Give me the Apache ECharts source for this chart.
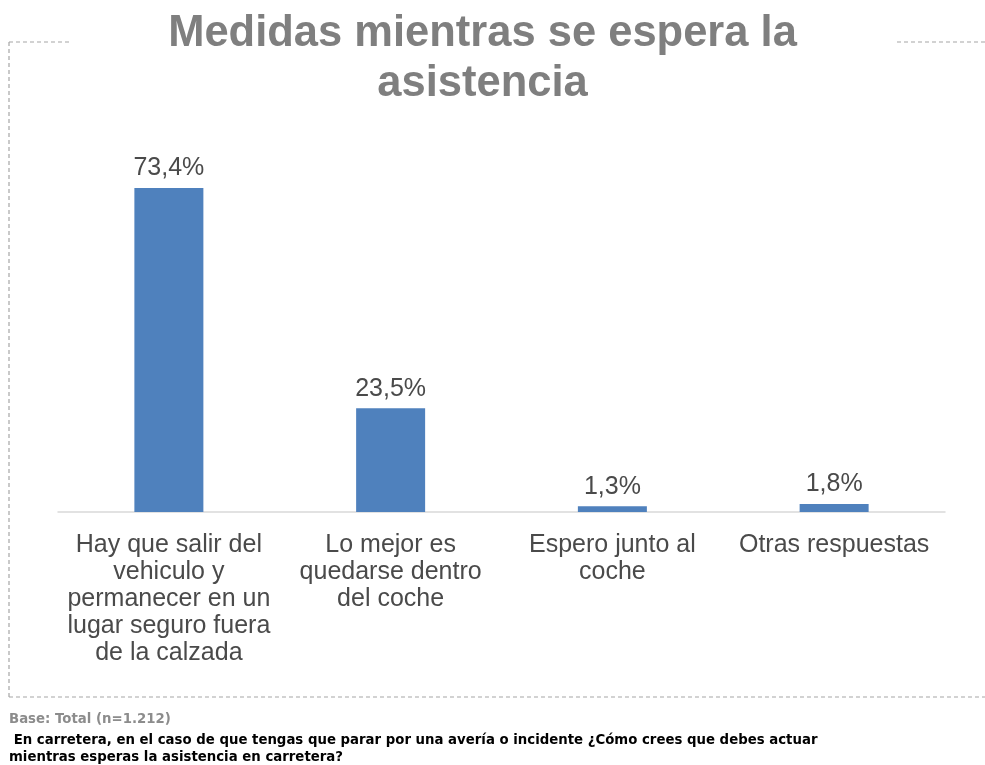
<!DOCTYPE html>
<html><head><meta charset="utf-8">
<script src="https://cdn.jsdelivr.net/npm/echarts@6/dist/echarts.min.js"></script>
<style>html,body{margin:0;padding:0;background:#fff}#c{width:985px;height:765px}</style>
</head><body><div id="c"></div>
<script>
const categories = [
  "Hay que salir del\nvehiculo y\npermanecer en un\nlugar seguro fuera\nde la calzada",
  "Lo mejor es\nquedarse dentro\ndel coche",
  "Espero junto al\ncoche",
  "Otras respuestas"
];
const values = [73.4, 23.5, 1.3, 1.8];
const titleText = "Medidas mientras se espera la\nasistencia";
const baseText = "Base: Total (n=1.212)";
const questionText = " En carretera, en el caso de que tengas que parar por una avería o incidente ¿Cómo crees que debes actuar\nmientras esperas la asistencia en carretera?";

const chart = echarts.init(document.getElementById('c'));
const dash = {stroke:'#a6a6a6', lineWidth:1.2, lineDash:[4,3]};
chart.setOption({
  backgroundColor:'#fff',
  animation:false,
  grid:{left:58, right:40, top:70.6, bottom:253, containLabel:false},
  xAxis:{
    type:'category', data:categories,
    axisLine:{show:true, lineStyle:{color:'#d9d9d9', width:1.5}},
    axisTick:{show:false},
    axisLabel:{interval:0, margin:20, fontFamily:'Liberation Sans', fontSize:25, color:'#4a4a4a', lineHeight:27, verticalAlign:'top'}
  },
  yAxis:{type:'value', min:0, max:100, show:false, splitLine:{show:false}},
  series:[{
    type:'bar', data:values, barWidth:69,
    itemStyle:{color:'#4f81bd'},
    label:{show:true, position:'top', distance:7, fontFamily:'Liberation Sans', fontSize:25, color:'#4a4a4a',
      formatter:p=>p.value.toFixed(1).replace('.',',')+'%'}
  }],
  graphic:[
    {type:'line', shape:{x1:9,y1:42,x2:70,y2:42}, style:dash, silent:true},
    {type:'line', shape:{x1:897,y1:42,x2:985,y2:42}, style:dash, silent:true},
    {type:'line', shape:{x1:9,y1:42,x2:9,y2:697}, style:dash, silent:true},
    {type:'line', shape:{x1:9,y1:697,x2:985,y2:697}, style:dash, silent:true},
    {type:'text', x:482.5, y:9, style:{text:titleText, textAlign:'center', font:'bold 43.5px "Liberation Sans"', fill:'#7f7f7f', lineHeight:50}},
    {type:'text', left:9, top:713, style:{text:baseText, font:'bold 13.3px "DejaVu Sans"', fill:'#8c8c8c'}},
    {type:'text', left:9, top:732, style:{text:questionText, font:'bold 13.3px "DejaVu Sans"', fill:'#000', lineHeight:17}}
  ]
});
</script></body></html>
